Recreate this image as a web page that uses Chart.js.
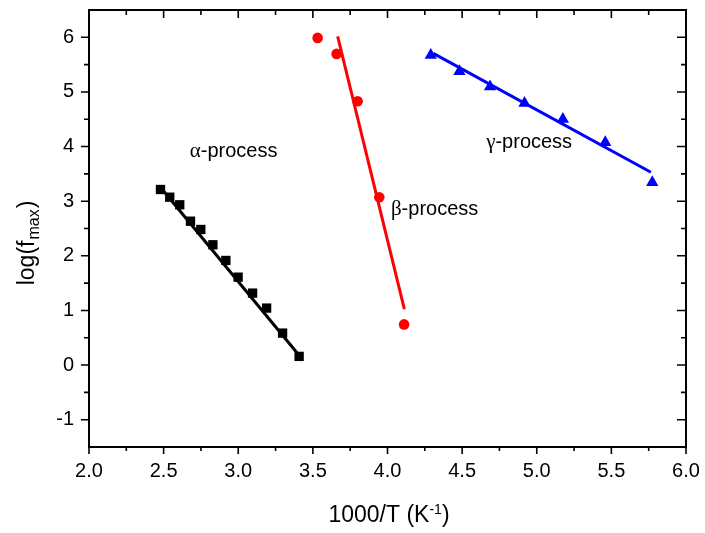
<!DOCTYPE html>
<html>
<head>
<meta charset="utf-8">
<script src="https://cdn.jsdelivr.net/npm/chart.js@4.4.0/dist/chart.umd.min.js"></script>
<style>
  html, body { margin: 0; padding: 0; background: #fff; }
</style>
</head>
<body>
<canvas id="chart" width="705" height="533"></canvas>
<script>
// --- alpha-process (black squares) ---
const alphaX = [2.479, 2.541, 2.608, 2.680, 2.749, 2.830, 2.917, 2.999, 3.096, 3.190, 3.297, 3.408];
const alphaY = [3.214, 3.073, 2.934, 2.634, 2.482, 2.202, 1.915, 1.609, 1.317, 1.043, 0.585, 0.159];
const alphaFitX = [2.48, 3.41];
const alphaFitY = [3.25, 0.17];

// --- beta-process (red circles) ---
const betaX = [3.532, 3.659, 3.800, 3.945, 4.111];
const betaY = [5.989, 5.696, 4.829, 3.073, 0.744];
const betaFitX = [3.666, 4.113];
const betaFitY = [6.018, 1.024];

// --- gamma-process (blue triangles) ---
const gammaX = [4.290, 4.482, 4.687, 4.918, 5.175, 5.459, 5.774];
const gammaY = [5.674, 5.376, 5.096, 4.796, 4.503, 4.077, 3.345];
const gammaFitX = [4.307, 5.765];
const gammaFitY = [5.707, 3.530];

// axis ticks
const xTicks = [2.0, 2.5, 3.0, 3.5, 4.0, 4.5, 5.0, 5.5, 6.0];
const yTicks = [-1, 0, 1, 2, 3, 4, 5, 6];

// text labels in the plot (greek letter + "-process", baseline-left in data units)
const procNames = ['\u03b1', '\u03b2', '\u03b3'];
const procX = [2.675, 4.023, 4.661];
const procY = [3.80, 2.74, 3.98];

const SANS = '"Liberation Sans", Arial, sans-serif';
const SERIF = '"Liberation Serif", "Times New Roman", serif';

function pts(xs, ys) {
  return xs.map((v, i) => ({ x: v, y: ys[i] }));
}

function markers(xs, ys, color, style, radius) {
  return {
    data: pts(xs, ys),
    showLine: false,
    pointStyle: style,
    pointRadius: radius,
    pointBackgroundColor: color,
    pointBorderColor: color,
    pointBorderWidth: 0
  };
}

function fitLine(xs, ys, color) {
  return {
    data: pts(xs, ys),
    showLine: true,
    borderColor: color,
    borderWidth: 3,
    pointRadius: 0,
    fill: false
  };
}

function noPad(s) {
  s.paddingTop = 0; s.paddingBottom = 0;
  s.paddingLeft = 0; s.paddingRight = 0;
}

// frame, minor/major ticks, titles and in-plot labels
const decorations = {
  id: 'decorations',
  afterDraw(chart) {
    const { ctx, chartArea: a, scales: { x, y } } = chart;
    ctx.save();
    ctx.strokeStyle = '#000';
    ctx.fillStyle = '#000';

    // ticks
    ctx.lineWidth = 1.6;
    ctx.beginPath();
    for (let i = 0; i < xTicks.length; i++) {
      const px = x.getPixelForValue(xTicks[i]);
      ctx.moveTo(px, a.bottom); ctx.lineTo(px, a.bottom + 7);
      ctx.moveTo(px, a.top); ctx.lineTo(px, a.top + 8);
      if (i < xTicks.length - 1) {
        const mx = x.getPixelForValue((xTicks[i] + xTicks[i + 1]) / 2);
        ctx.moveTo(mx, a.bottom); ctx.lineTo(mx, a.bottom + 4);
        ctx.moveTo(mx, a.top); ctx.lineTo(mx, a.top + 5);
      }
    }
    const yAll = [yTicks[0] - 0.5].concat(yTicks);
    for (let i = 0; i < yAll.length; i++) {
      const v = yAll[i];
      const py = y.getPixelForValue(v);
      if (Number.isInteger(v)) {
        ctx.moveTo(a.left, py); ctx.lineTo(a.left - 8, py);
        ctx.moveTo(a.right, py); ctx.lineTo(a.right - 9, py);
      }
      const my = y.getPixelForValue(v + 0.5);
      if (my > a.top + 1) {
        ctx.moveTo(a.left, my); ctx.lineTo(a.left - 5, my);
        ctx.moveTo(a.right, my); ctx.lineTo(a.right - 5, my);
      }
    }
    ctx.stroke();

    // frame
    ctx.lineWidth = 2;
    ctx.strokeRect(a.left, a.top, a.right - a.left, a.bottom - a.top);

    // x title: 1000/T (K^-1)
    ctx.textBaseline = 'alphabetic';
    ctx.textAlign = 'left';
    const big = '23px ' + SANS, small = '14px ' + SANS;
    ctx.font = big;
    const w1 = ctx.measureText('1000/T (K').width;
    const w3 = ctx.measureText(')').width;
    ctx.font = small;
    const w2 = ctx.measureText('-1').width;
    const tx = 389 - (w1 + w2 + w3) / 2;
    const ty = 521.5;
    ctx.font = big;
    ctx.fillText('1000/T (K', tx, ty);
    ctx.font = small;
    ctx.fillText('-1', tx + w1, ty - 8);
    ctx.font = big;
    ctx.fillText(')', tx + w1 + w2, ty);

    // y title: log(f_max)
    ctx.save();
    ctx.translate(34, 244);
    ctx.rotate(-Math.PI / 2);
    const sub = '16px ' + SANS;
    ctx.font = big;
    const v1 = ctx.measureText('log(f').width;
    const v3 = ctx.measureText(')').width;
    ctx.font = sub;
    const v2 = ctx.measureText('max').width;
    const sx = -(v1 + v2 + v3) / 2;
    ctx.font = big;
    ctx.fillText('log(f', sx, 0);
    ctx.font = sub;
    ctx.fillText('max', sx + v1 + 1, 5);
    ctx.font = big;
    ctx.fillText(')', sx + v1 + v2 + 2, 0);
    ctx.restore();

    // process labels
    for (let i = 0; i < procNames.length; i++) {
      const px = x.getPixelForValue(procX[i]);
      const py = y.getPixelForValue(procY[i]);
      ctx.font = '21px ' + SERIF;
      ctx.fillText(procNames[i], px, py);
      const gw = ctx.measureText(procNames[i]).width;
      ctx.font = '20px ' + SANS;
      ctx.fillText('-process', px + gw, py);
    }
    ctx.restore();
  }
};

const tickFont = { family: SANS, size: 20 };

new Chart(document.getElementById('chart'), {
  type: 'scatter',
  data: {
    datasets: [
      fitLine(alphaFitX, alphaFitY, '#000000'),
      markers(alphaX, alphaY, '#000000', 'rect', 6.6),
      fitLine(betaFitX, betaFitY, '#ff0000'),
      markers(betaX, betaY, '#ff0000', 'circle', 5.3),
      fitLine(gammaFitX, gammaFitY, '#0000ff'),
      markers(gammaX, gammaY, '#0000ff', 'triangle', 7.1)
    ]
  },
  options: {
    responsive: false,
    animation: false,
    devicePixelRatio: 1,
    layout: { padding: { left: 0, right: 19, top: 10, bottom: 0 } },
    plugins: {
      legend: { display: false },
      tooltip: { enabled: false }
    },
    scales: {
      x: {
        type: 'linear',
        min: 2, max: 6,
        afterBuildTicks: s => { s.ticks = xTicks.map(v => ({ value: v })); },
        afterFit: s => { s.height = 86; noPad(s); },
        ticks: {
          callback: v => v.toFixed(1),
          font: tickFont, color: '#000',
          padding: 12, maxRotation: 0, autoSkip: false
        },
        grid: { drawOnChartArea: false, drawTicks: false },
        border: { display: false }
      },
      y: {
        type: 'linear',
        min: -1.5, max: 6.5,
        afterBuildTicks: s => { s.ticks = yTicks.map(v => ({ value: v })); },
        afterFit: s => { s.width = 89; noPad(s); },
        ticks: {
          callback: v => String(v),
          font: tickFont, color: '#000',
          padding: 15, autoSkip: false
        },
        grid: { drawOnChartArea: false, drawTicks: false },
        border: { display: false }
      }
    }
  },
  plugins: [decorations]
});
</script>
</body>
</html>
